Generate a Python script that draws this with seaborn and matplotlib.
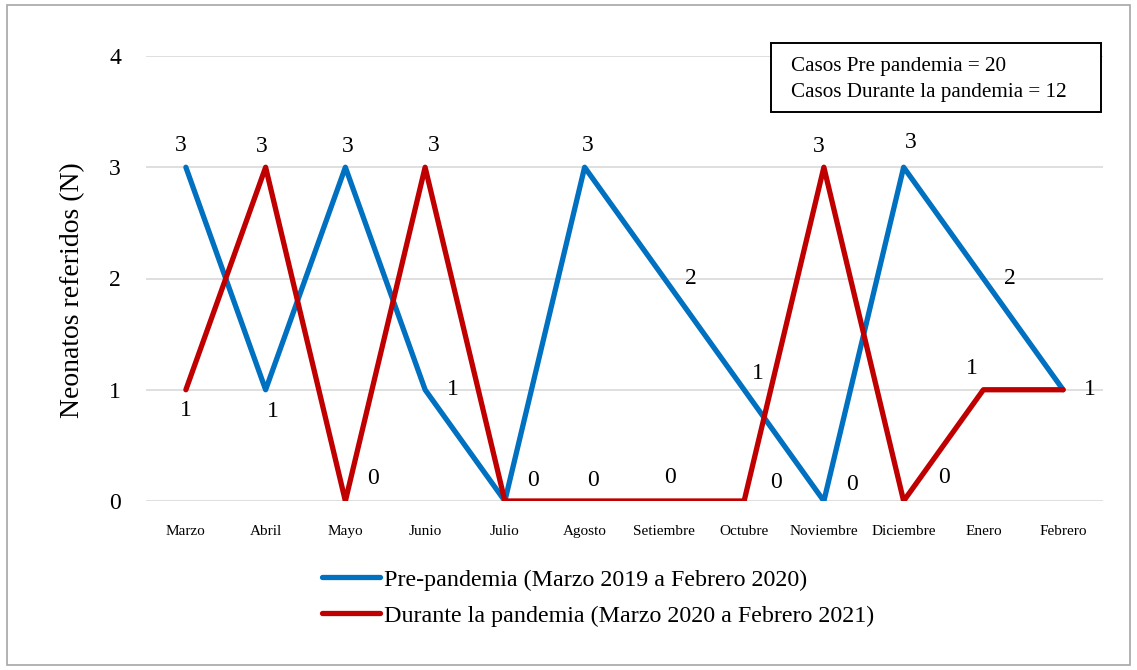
import matplotlib
matplotlib.use("Agg")
import matplotlib.pyplot as plt
import seaborn as sns
import pandas as pd
from matplotlib.patches import Rectangle

# Months (March to February)
meses = ["Marzo", "Abril", "Mayo", "Junio", "Julio", "Agosto", "Setiembre",
         "Octubre", "Noviembre", "Diciembre", "Enero", "Febrero"]

# Referred neonates per month
pre_pandemia = [3, 1, 3, 1, 0, 3, 2, 1, 0, 3, 2, 1]
durante_pandemia = [1, 3, 0, 3, 0, 0, 0, 0, 3, 0, 1, 1]

serie_pre = "Pre-pandemia (Marzo 2019 a Febrero 2020)"
serie_durante = "Durante la pandemia (Marzo 2020 a Febrero 2021)"

totales = ["Casos Pre pandemia = 20", "Casos Durante la pandemia = 12"]

y_ticks = [0, 1, 2, 3, 4]

# Offsets (points) of each value label relative to its point
off_pre = [(-4, 16), (5, -16), (2, 15), (20, 0), None, (2, 16),
           (19, 0), (10, 12), (20, 12), (5, 18), (19, 0), (19, 0)]
off_durante = [(0, -15), (-3, 15), (20, 16), (6, 16), (20, 15), (6, 15),
               (4, 17), (23, 13), (-4, 15), (29, 17), (-8, 15), None]

rows = []
for i, m in enumerate(meses):
    rows.append({"idx": i, "mes": m, "N": pre_pandemia[i], "serie": serie_pre})
for i, m in enumerate(meses):
    rows.append({"idx": i, "mes": m, "N": durante_pandemia[i], "serie": serie_durante})
df = pd.DataFrame(rows)

sns.set_theme(style="white")
plt.rcParams["font.family"] = ["Liberation Serif", "DejaVu Serif"]
plt.rcParams["text.color"] = "black"
plt.rcParams["xtick.color"] = "black"
plt.rcParams["ytick.color"] = "black"
plt.rcParams["axes.labelcolor"] = "black"

W, H = 1137, 670
fig = plt.figure(figsize=(W / 100, H / 100), dpi=100)
ax = fig.add_axes([146 / W, 1 - 501 / H, (1103 - 146) / W, (501 - 56) / H])

palette = {serie_pre: "#0070C0", serie_durante: "#C00000"}
sns.lineplot(data=df, x="idx", y="N", hue="serie", palette=palette,
             hue_order=[serie_pre, serie_durante], sort=False,
             linewidth=3.8, ax=ax, legend=True)

ax.set_xlim(-0.5, 11.5)
ax.set_ylim(0, 4)
ax.set_yticks(y_ticks)
ax.set_yticklabels([str(t) for t in y_ticks], fontsize=17)
ax.set_xticks(range(len(meses)))
ax.set_xticklabels(meses, fontsize=11)
ax.tick_params(axis="x", pad=17, length=0)
ax.tick_params(axis="y", pad=18, length=0)
ax.grid(axis="y", color="#D9D9D9", linewidth=1.2)
ax.set_axisbelow(True)
for s in ax.spines.values():
    s.set_visible(False)
ax.set_xlabel("")
ax.set_ylabel("Neonatos referidos (N)", fontsize=20)
ax.yaxis.label.set_va("center")
ax.yaxis.set_label_coords((73 - 146) / 957, (501 - 290) / 445)

# Value labels
for vals, offs in ((pre_pandemia, off_pre), (durante_pandemia, off_durante)):
    for i, (v, o) in enumerate(zip(vals, offs)):
        if o is None:
            continue
        ax.annotate(str(v), (i, v), xytext=o, textcoords="offset points",
                    ha="center", va="center", fontsize=17, color="black")

# Legend below the plot
handles, labels = ax.get_legend_handles_labels()
ax.get_legend().remove()
fig.legend(handles, labels, loc="upper left",
           bbox_to_anchor=(322 / W, 1 - 569 / H), frameon=False,
           fontsize=17.3, handlelength=2.4, handletextpad=0.17,
           labelspacing=0.58, borderpad=0, borderaxespad=0)

# Totals box
fig.patches.append(Rectangle((771 / W, 1 - 112 / H), (1101 - 771) / W, (112 - 43) / H,
                             transform=fig.transFigure, fill=True,
                             facecolor="white", edgecolor="black",
                             linewidth=1.4, zorder=5))
for t, yc in zip(totales, (67, 92)):
    fig.text(791 / W, 1 - yc / H, t, ha="left", va="center",
             fontsize=15.2, zorder=6)

# Outer frame
fig.patches.append(Rectangle((7 / W, 5 / H), (1130 - 7) / W, (665 - 5) / H,
                             transform=fig.transFigure, fill=False,
                             edgecolor="#A6A6A6", linewidth=1.2))

fig.savefig("out.png", dpi=100)
